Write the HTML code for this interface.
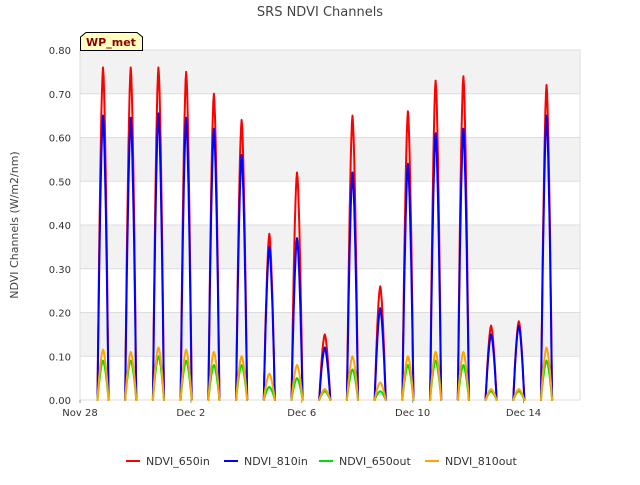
<!DOCTYPE html>
<html><head><meta charset="utf-8"><style>
body{margin:0;background:#fff;font-family:"Liberation Sans","DejaVu Sans",sans-serif}
svg text{font-family:"DejaVu Sans","Liberation Sans",sans-serif}
</style></head><body>
<svg id="c" width="640" height="480" xmlns="http://www.w3.org/2000/svg">
<text x="320" y="16" text-anchor="middle" font-size="13" fill="#444">SRS NDVI Channels</text>
<g id="bands"></g><g id="grid"></g>
<rect x="80" y="50" width="500" height="350" fill="none" stroke="#ddd"/>
<g id="series"></g><g id="axes"></g>
<text transform="translate(18,225) rotate(-90)" text-anchor="middle" font-size="11" fill="#444">NDVI Channels (W/m2/nm)</text>
<g>
<path d="M80.5,50.5 L80.5,37 L86,32.5 L137,32.5 L142.5,37 L142.5,50.5 Z" fill="#ffffc0" stroke="#000"/>
<text x="111" y="46" text-anchor="middle" font-size="11" font-weight="bold" fill="#8b0000">WP_met</text>
</g>
<g id="legend"></g>
</svg>
<script>
const yTicks=[0,0.1,0.2,0.3,0.4,0.5,0.6,0.7,0.8];
const xTickLabels=["Nov 28","Dec 2","Dec 6","Dec 10","Dec 14"];
const xTickDays=[0,4,8,12,16];
const peakDays=[0.83,1.83,2.83,3.83,4.83,5.83,6.83,7.83,8.83,9.83,10.83,11.83,12.83,13.83,14.83,15.83,16.83];
const ndvi650in=[0.76,0.76,0.76,0.75,0.70,0.64,0.38,0.52,0.15,0.65,0.26,0.66,0.73,0.74,0.17,0.18,0.72];
const ndvi810in=[0.65,0.645,0.655,0.645,0.62,0.56,0.35,0.37,0.12,0.52,0.21,0.54,0.61,0.62,0.15,0.17,0.65];
const ndvi650out=[0.09,0.09,0.10,0.09,0.08,0.08,0.03,0.05,0.02,0.07,0.02,0.08,0.09,0.08,0.02,0.02,0.09];
const ndvi810out=[0.115,0.11,0.12,0.115,0.11,0.10,0.06,0.08,0.025,0.10,0.04,0.10,0.11,0.11,0.025,0.025,0.12];
const seriesNames=["NDVI_650in","NDVI_810in","NDVI_650out","NDVI_810out"];
const colors=["#ff0000","#0000ff","#00dd00","#ffa500"];
const NS="http://www.w3.org/2000/svg";
const x=d=>80+d*27.72, y=v=>400-v*437.5;
function mk(t,a,p){const e=document.createElementNS(NS,t);for(const k in a)e.setAttribute(k,a[k]);document.getElementById(p).appendChild(e);return e;}
for(let i=0;i<8;i+=2){const r=mk("rect",{x:80,y:y(yTicks[i+2]),width:500,height:y(yTicks[i+1])-y(yTicks[i+2]),fill:"#f2f2f2"},"bands");

}
yTicks.forEach(v=>{const l=mk("line",{x1:80,x2:580,y1:y(v),y2:y(v),stroke:"#ddd"},"grid");


const t=mk("text",{x:71,y:y(v)+4,"text-anchor":"end","font-size":"10",fill:"#333"},"axes");t.textContent=v.toFixed(2);

});
xTickDays.forEach((d,i)=>{const t=mk("text",{x:x(d),y:416,"text-anchor":"middle","font-size":"10",fill:"#333"},"axes");t.textContent=xTickLabels[i];


const k=mk("line",{x1:x(d),x2:x(d),y1:400,y2:403,stroke:"#999"},"axes");

});
[ndvi650in,ndvi810in,ndvi650out,ndvi810out].forEach((arr,s)=>{
 let d="";
 peakDays.forEach((pd,i)=>{const w=0.2;
  d+="M"+x(pd-w-0.03).toFixed(1)+","+y(0).toFixed(1);
  for(let k=-10;k<=10;k++){const f=1-Math.abs(k/10)**1.6;d+=" L"+x(pd+k*w/10).toFixed(1)+","+y(arr[i]*f).toFixed(1);}
  d+=" L"+x(pd+w+0.03).toFixed(1)+","+y(0).toFixed(1)+" ";});
 const p=mk("path",{d:d,fill:"none",stroke:colors[s],"stroke-width":2,"stroke-linejoin":"round"},"series");
 
 });
const lx=[126,224,319,425];
seriesNames.forEach((n,i)=>{const g=mk("g",{},"legend");


const l=document.createElementNS(NS,"line");l.setAttribute("x1",lx[i]);l.setAttribute("x2",lx[i]+14);l.setAttribute("y1",461);l.setAttribute("y2",461);l.setAttribute("stroke",colors[i]);l.setAttribute("stroke-width",2);g.appendChild(l);
const t=document.createElementNS(NS,"text");t.setAttribute("x",lx[i]+20);t.setAttribute("y",465);t.setAttribute("font-size","11");t.setAttribute("fill","#333");t.textContent=n;g.appendChild(t);});
</script>
</body></html>
